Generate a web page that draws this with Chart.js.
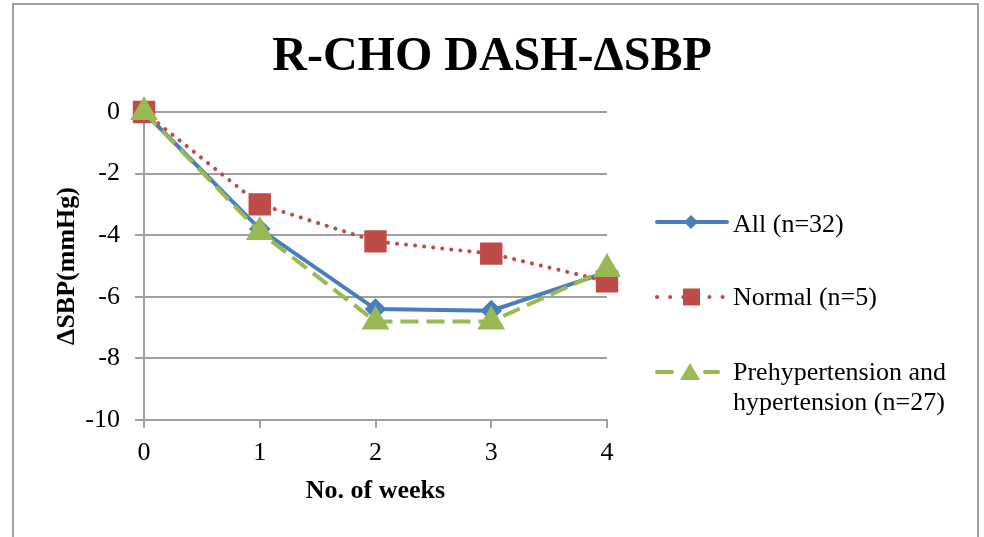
<!DOCTYPE html>
<html>
<head>
<meta charset="utf-8">
<script src="https://cdn.jsdelivr.net/npm/chart.js@4/dist/chart.umd.min.js"></script>
<style>
  body { margin: 0; background: #fff; }
  #wrap { position: relative; width: 984px; height: 537px; overflow: hidden; font-family: "Liberation Serif", "Times New Roman", serif; color: #000; }
  #frame { position: absolute; left: 12px; top: 3px; width: 967px; height: 600px; border: 2px solid #a0a0a0; box-sizing: border-box; }
  #title { position: absolute; left: 0; top: 24px; width: 984px; text-align: center; font-weight: bold; font-size: 48px; line-height: 60px; }
  canvas { position: absolute; left: 0; top: 0; }
  .sample { position: absolute; left: 655px; }
  .label { position: absolute; left: 733px; font-size: 26px; line-height: 30px; white-space: nowrap; }
</style>
</head>
<body>
<div id="wrap">
  <div id="frame"></div>
  <canvas id="chart" width="984" height="537"></canvas>
  <div id="title">R-CHO DASH-ΔSBP</div>

  <svg class="sample" style="top:210px" width="76" height="24">
    <line x1="2" y1="12" x2="72" y2="12" stroke="#4A7EBB" stroke-width="4" stroke-linecap="round"/>
    <polygon points="29,12 36,5 43,12 36,19" fill="#4A7EBB"/>
  </svg>
  <div class="label" style="top:209px">All (n=32)</div>

  <svg class="sample" style="top:285px" width="76" height="24">
    <line x1="2" y1="12" x2="72" y2="12" stroke="#BE4B48" stroke-width="4" stroke-linecap="round" stroke-dasharray="0.1 13"/>
    <rect x="28" y="3.5" width="17" height="17" fill="#BE4B48"/>
  </svg>
  <div class="label" style="top:282px">Normal (n=5)</div>

  <svg class="sample" style="top:360px" width="76" height="24">
    <line x1="2" y1="12" x2="17" y2="12" stroke="#98B954" stroke-width="4" stroke-linecap="round"/>
    <line x1="50" y1="12" x2="63" y2="12" stroke="#98B954" stroke-width="4" stroke-linecap="round"/>
    <polygon points="25,20 35,3 45,20" fill="#98B954"/>
  </svg>
  <div class="label" style="top:357px">Prehypertension and<br>hypertension (n=27)</div>
</div>

<script>
  // data
  const weeks = ['0', '1', '2', '3', '4'];
  const allValues = [0, -3.8, -6.4, -6.45, -5.2];
  const normalValues = [0, -3.0, -4.2, -4.6, -5.5];
  const prehypValues = [0, -3.9, -6.8, -6.8, -5.1];
  const yMin = -10;
  const yMax = 0;
  const yStep = 2;

  const serif = '"Liberation Serif", "Times New Roman", serif';
  const gray = '#a0a0a0';

  const ctx = document.getElementById('chart');

  new Chart(ctx, {
    type: 'line',
    data: {
      labels: weeks,
      datasets: [{
        label: 'All (n=32)',
        data: allValues,
        borderColor: '#4A7EBB',
        backgroundColor: '#4A7EBB',
        borderWidth: 4,
        pointStyle: 'rectRot',
        pointRadius: 8,
        order: 2
      }, {
        label: 'Normal (n=5)',
        data: normalValues,
        borderColor: '#BE4B48',
        backgroundColor: '#BE4B48',
        borderWidth: 4,
        borderDash: [0.1, 9],
        borderCapStyle: 'round',
        pointStyle: 'rect',
        pointRadius: 13,
        order: 1
      }, {
        label: 'Prehypertension and hypertension (n=27)',
        data: prehypValues,
        borderColor: '#98B954',
        backgroundColor: '#98B954',
        borderWidth: 4,
        borderDash: [18, 8],
        pointStyle: 'triangle',
        pointRadius: 12,
        order: 0
      }]
    },
    options: {
      responsive: false,
      animation: false,
      clip: false,
      tension: 0,
      layout: {
        padding: { left: 48, right: 377, top: 112, bottom: 26 }
      },
      plugins: {
        legend: { display: false },
        tooltip: { enabled: false }
      },
      scales: {
        x: {
          offset: false,
          grid: { drawOnChartArea: false, tickLength: 8, color: gray, lineWidth: 2 },
          border: { color: gray, width: 2 },
          ticks: { color: '#000', font: { family: serif, size: 26 }, padding: 10, maxRotation: 0 },
          title: {
            display: true,
            text: 'No. of weeks',
            color: '#000',
            font: { family: serif, size: 26, weight: 'bold' },
            padding: { top: 4, bottom: 4 }
          },
          afterFit: function(scale) { scale.height = 91; }
        },
        y: {
          min: yMin,
          max: yMax,
          grid: { tickLength: 9, color: gray, lineWidth: 2 },
          border: { color: gray, width: 2 },
          ticks: { stepSize: yStep, color: '#000', font: { family: serif, size: 26 }, padding: 15 },
          title: {
            display: true,
            text: 'ΔSBP(mmHg)',
            color: '#000',
            font: { family: serif, size: 26, weight: 'bold' },
            padding: { top: 4, bottom: 4 }
          },
          afterFit: function(scale) { scale.width = 96; }
        }
      }
    }
  });
</script>
</body>
</html>
